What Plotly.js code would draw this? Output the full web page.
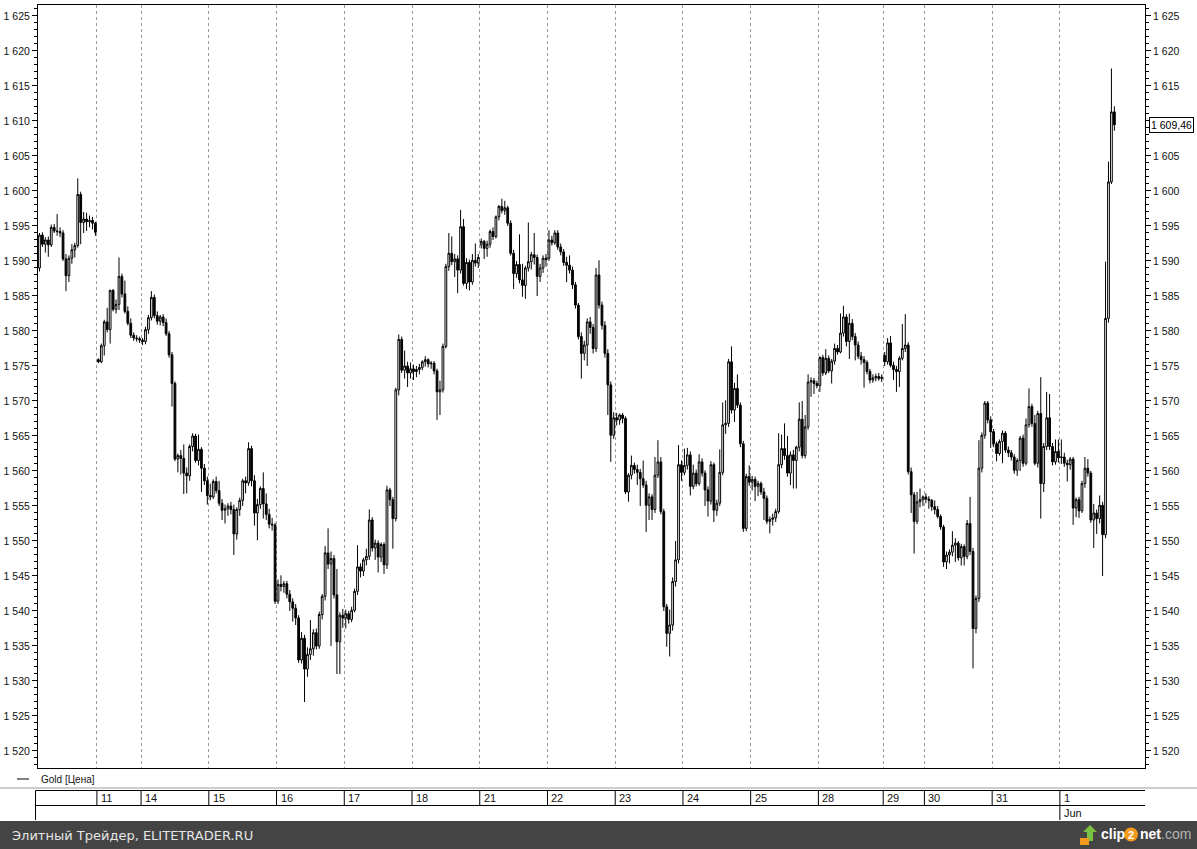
<!DOCTYPE html>
<html><head><meta charset="utf-8">
<script src="https://cdn.plot.ly/plotly-3.0.1.min.js"></script>
<style>html,body{margin:0;padding:0;background:#fff;}#chart{width:1197px;height:849px;}</style>
</head><body><div id="chart"></div>
<script>
// ---- DATA: hourly Gold candles [open, high, low, close] per trading day ----
const days = ['10','11','14','15','16','17','18','21','22','23','24','25','28','29','30','31','1'];
const monthOfLastDay = 'Jun';
const seriesName = 'Gold [Цена]';
const lastPriceText = '1 609,46';

const d10 = [[1589.0,1594.0,1588.5,1593.7],[1593.7,1594.1,1592.0,1592.4],[1592.4,1593.4,1591.2,1593.0],[1593.0,1593.5,1590.6,1592.3],[1592.3,1595.2,1592.0,1594.8],[1594.8,1595.3,1594.0,1594.3],[1594.3,1596.7,1593.6,1594.2],[1594.2,1594.8,1593.4,1594.0],[1594.0,1594.4,1590.0,1590.3],[1590.3,1591.0,1585.7,1587.9],[1587.9,1590.8,1587.0,1590.4],[1590.4,1592.4,1589.6,1591.6],[1591.6,1592.6,1590.5,1592.2],[1592.2,1601.8,1591.9,1599.5],[1599.5,1599.9,1592.4,1595.5],[1595.5,1597.0,1594.0,1596.0],[1596.0,1596.9,1594.3,1595.6],[1595.6,1596.5,1594.8,1595.8],[1595.8,1596.3,1594.5,1595.4],[1595.4,1595.6,1593.6,1594.1]];
const d11 = [[1575.9,1576.1,1575.4,1575.6],[1575.6,1578.2,1575.4,1577.9],[1577.9,1581.6,1576.5,1581.3],[1581.3,1583.3,1579.8,1580.2],[1580.2,1585.9,1578.2,1585.8],[1585.8,1586.0,1582.8,1583.1],[1583.1,1584.5,1582.5,1583.8],[1583.8,1590.5,1583.0,1587.8],[1587.8,1588.2,1584.8,1585.3],[1585.3,1587.2,1582.5,1582.8],[1582.8,1583.5,1580.8,1581.1],[1581.1,1581.8,1579.0,1579.4],[1579.4,1579.8,1578.6,1579.0],[1579.0,1579.4,1578.5,1578.9],[1578.9,1579.2,1578.3,1578.7]];
const d14 = [[1578.7,1579.0,1578.0,1578.5],[1578.5,1580.6,1578.1,1580.2],[1580.2,1582.3,1579.6,1581.9],[1581.9,1585.7,1581.5,1584.8],[1584.8,1585.2,1581.8,1582.2],[1582.2,1582.8,1580.9,1581.4],[1581.4,1582.3,1580.8,1582.0],[1582.0,1582.4,1580.7,1581.2],[1581.2,1581.8,1579.3,1579.6],[1579.6,1580.0,1576.2,1576.6],[1576.6,1577.0,1569.2,1572.5],[1572.5,1572.8,1561.4,1561.7],[1561.7,1562.5,1559.8,1562.2],[1562.2,1563.0,1559.5,1561.8],[1561.8,1563.8,1556.7,1559.7],[1559.7,1560.5,1556.8,1559.3],[1559.3,1563.8,1558.6,1563.5],[1563.5,1565.4,1562.8,1565.0],[1565.0,1565.3,1561.2,1561.5],[1561.5,1565.2,1560.8,1563.1],[1563.1,1563.4,1557.0,1560.4],[1560.4,1561.0,1558.0,1558.6],[1558.6,1559.2,1555.2,1556.5]];
const d15 = [[1556.5,1558.2,1555.8,1556.3],[1556.3,1558.8,1556.0,1558.5],[1558.5,1559.2,1556.8,1557.2],[1557.2,1558.6,1555.0,1555.4],[1555.4,1556.0,1553.0,1554.4],[1554.4,1555.2,1552.5,1554.6],[1554.6,1555.4,1553.6,1555.0],[1555.0,1555.6,1553.8,1554.5],[1554.5,1555.2,1548.0,1551.0],[1551.0,1554.8,1550.2,1554.5],[1554.5,1556.2,1553.6,1555.8],[1555.8,1558.9,1555.0,1558.6],[1558.6,1559.2,1556.8,1558.3],[1558.3,1564.1,1557.9,1563.2],[1563.2,1563.6,1557.8,1558.6],[1558.6,1559.4,1552.2,1554.0],[1554.0,1556.0,1550.1,1555.2],[1555.2,1557.8,1554.6,1557.5],[1557.5,1559.8,1553.2,1555.3],[1555.3,1556.8,1553.0,1553.8],[1553.8,1554.6,1551.8,1552.4],[1552.4,1553.3,1551.5,1552.3],[1552.3,1552.6,1541.0,1541.4]];
const d16 = [[1541.4,1544.5,1541.0,1543.8],[1543.8,1545.1,1542.8,1543.5],[1543.5,1544.3,1542.6,1543.9],[1543.9,1544.3,1541.8,1542.4],[1542.4,1543.0,1540.0,1541.3],[1541.3,1541.8,1538.5,1540.4],[1540.4,1541.0,1538.0,1539.0],[1539.0,1539.4,1532.6,1533.0],[1533.0,1537.0,1532.5,1536.1],[1536.1,1536.6,1527.0,1531.7],[1531.7,1534.8,1530.6,1533.8],[1533.8,1538.7,1533.0,1534.6],[1534.6,1537.4,1533.6,1536.9],[1536.9,1537.5,1534.5,1535.0],[1535.0,1539.9,1534.6,1539.5],[1539.5,1542.4,1538.8,1542.1],[1542.1,1549.3,1541.5,1548.3],[1548.3,1551.8,1546.0,1546.7],[1546.7,1548.5,1535.0,1547.5],[1547.5,1548.0,1541.8,1542.3],[1542.3,1546.0,1531.0,1535.6],[1535.6,1539.8,1531.0,1539.4],[1539.4,1540.3,1537.6,1539.0]];
const d17 = [[1539.0,1540.2,1537.5,1539.6],[1539.6,1540.0,1538.2,1538.8],[1538.8,1540.6,1538.4,1540.1],[1540.1,1543.2,1539.8,1542.8],[1542.8,1549.4,1542.3,1546.3],[1546.3,1546.8,1544.8,1545.7],[1545.7,1547.6,1545.0,1547.3],[1547.3,1548.9,1546.5,1547.8],[1547.8,1554.5,1547.3,1553.0],[1553.0,1553.4,1548.5,1549.0],[1549.0,1550.2,1547.3,1549.7],[1549.7,1550.1,1545.5,1547.7],[1547.7,1549.8,1547.0,1549.5],[1549.5,1549.8,1545.3,1546.6],[1546.6,1557.9,1546.0,1557.3],[1557.3,1557.6,1555.0,1555.9],[1555.9,1556.3,1548.9,1553.2],[1553.2,1571.9,1552.8,1571.6],[1571.6,1579.5,1570.8,1578.8],[1578.8,1579.2,1574.0,1574.4],[1574.4,1577.2,1573.2,1575.0],[1575.0,1575.6,1572.0,1574.0],[1574.0,1575.5,1573.2,1574.6]];
const d18 = [[1574.6,1575.2,1573.0,1574.2],[1574.2,1575.0,1573.4,1574.5],[1574.5,1575.3,1573.8,1574.8],[1574.8,1575.8,1574.4,1575.6],[1575.6,1576.4,1574.9,1575.9],[1575.9,1576.1,1574.8,1575.3],[1575.3,1575.7,1574.6,1575.4],[1575.4,1575.7,1573.8,1574.3],[1574.3,1574.6,1567.3,1571.3],[1571.3,1572.9,1568.0,1571.6],[1571.6,1578.2,1571.2,1577.8],[1577.8,1589.6,1577.5,1589.2],[1589.2,1594.0,1588.6,1591.1],[1591.1,1593.5,1589.4,1589.9],[1589.9,1591.0,1587.7,1590.3],[1590.3,1590.8,1585.4,1588.7],[1588.7,1597.3,1588.2,1594.9],[1594.9,1596.0,1586.5,1586.8],[1586.8,1590.4,1586.0,1589.8],[1589.8,1590.2,1585.8,1587.0],[1587.0,1591.0,1586.6,1590.1],[1590.1,1592.5,1589.2,1589.7],[1589.7,1591.0,1589.0,1590.5]];
const d21 = [[1592.3,1593.2,1591.8,1592.8],[1592.8,1593.0,1590.3,1591.8],[1591.8,1592.9,1590.6,1592.4],[1592.4,1594.5,1591.9,1594.2],[1594.2,1594.8,1593.0,1593.5],[1593.5,1596.5,1593.2,1596.3],[1596.3,1598.0,1595.8,1597.8],[1597.8,1598.9,1596.8,1597.2],[1597.2,1598.6,1596.6,1597.6],[1597.6,1597.9,1595.0,1595.4],[1595.4,1595.8,1590.8,1591.1],[1591.1,1591.6,1586.0,1588.2],[1588.2,1590.0,1587.6,1589.5],[1589.5,1593.8,1586.8,1587.3],[1587.3,1589.6,1584.9,1586.5],[1586.5,1589.3,1584.6,1589.0],[1589.0,1595.5,1588.5,1589.9],[1589.9,1591.3,1588.8,1590.9],[1590.9,1594.0,1589.5,1590.5],[1590.5,1590.9,1585.0,1587.8],[1587.8,1589.6,1587.0,1589.0],[1589.0,1590.8,1588.3,1590.4],[1590.4,1591.0,1589.2,1590.2]];
const d22 = [[1590.4,1594.4,1590.0,1593.0],[1593.0,1593.6,1592.2,1592.6],[1592.6,1594.4,1592.3,1594.0],[1594.0,1594.4,1591.6,1592.0],[1592.0,1592.5,1590.8,1591.3],[1591.3,1591.7,1589.3,1589.8],[1589.8,1590.6,1587.0,1589.4],[1589.4,1590.8,1588.2,1588.7],[1588.7,1589.2,1586.0,1586.6],[1586.6,1587.0,1583.2,1583.7],[1583.7,1584.0,1578.8,1579.2],[1579.2,1579.8,1573.2,1576.8],[1576.8,1578.6,1575.8,1578.0],[1578.0,1581.8,1575.0,1581.3],[1581.3,1582.0,1579.6,1580.5],[1580.5,1581.0,1576.8,1577.5],[1577.5,1589.0,1577.0,1588.0],[1588.0,1590.1,1583.2,1583.7],[1583.7,1584.2,1580.2,1580.8],[1580.8,1581.4,1576.2,1576.8],[1576.8,1577.4,1568.0,1572.3],[1572.3,1572.8,1561.3,1565.1],[1565.1,1568.4,1564.6,1567.6]];
const d23 = [[1567.6,1568.3,1566.5,1567.3],[1567.3,1568.2,1566.6,1568.0],[1568.0,1568.3,1566.8,1567.5],[1567.5,1567.8,1556.7,1557.0],[1557.0,1559.7,1555.6,1559.4],[1559.4,1562.2,1558.8,1560.8],[1560.8,1561.2,1559.6,1560.2],[1560.2,1560.9,1558.0,1559.8],[1559.8,1560.3,1555.0,1558.9],[1558.9,1561.5,1557.6,1558.0],[1558.0,1558.6,1551.3,1555.1],[1555.1,1556.8,1553.0,1556.3],[1556.3,1556.7,1553.0,1554.5],[1554.5,1562.0,1554.0,1559.4],[1559.4,1564.4,1559.0,1561.3],[1561.3,1562.0,1553.8,1554.2],[1554.2,1554.6,1540.0,1540.6],[1540.6,1541.0,1534.9,1536.8],[1536.8,1540.2,1533.5,1538.0],[1538.0,1544.8,1537.2,1544.2],[1544.2,1550.0,1543.5,1547.3],[1547.3,1563.7,1546.8,1560.9],[1560.9,1561.5,1558.6,1559.8]];
const d24 = [[1559.8,1563.2,1559.4,1560.8],[1560.8,1563.3,1560.2,1562.3],[1562.3,1562.8,1556.5,1557.8],[1557.8,1560.9,1557.4,1559.7],[1559.7,1560.2,1557.8,1558.2],[1558.2,1562.4,1557.9,1561.3],[1561.3,1561.8,1559.2,1559.7],[1559.7,1560.1,1555.0,1557.3],[1557.3,1557.8,1553.5,1555.7],[1555.7,1561.4,1555.2,1560.9],[1560.9,1561.2,1552.7,1554.4],[1554.4,1555.9,1553.6,1555.4],[1555.4,1563.1,1555.0,1559.8],[1559.8,1569.8,1559.4,1566.6],[1566.6,1570.1,1565.3,1566.8],[1566.8,1576.0,1566.3,1575.6],[1575.6,1577.8,1568.2,1568.7],[1568.7,1572.6,1567.0,1571.8],[1571.8,1573.8,1569.0,1569.4],[1569.4,1569.8,1563.4,1563.9],[1563.9,1564.3,1551.3,1551.8],[1551.8,1559.6,1551.4,1559.2],[1559.2,1560.8,1557.9,1558.4]];
const d25 = [[1558.4,1559.3,1557.2,1558.8],[1558.8,1559.2,1555.7,1557.8],[1557.8,1558.6,1556.4,1558.2],[1558.2,1558.5,1556.6,1557.0],[1557.0,1557.6,1553.0,1556.1],[1556.1,1556.5,1552.4,1552.8],[1552.8,1553.5,1551.1,1553.1],[1553.1,1553.9,1552.2,1553.3],[1553.3,1554.6,1552.7,1554.2],[1554.2,1565.4,1553.9,1560.9],[1560.9,1565.2,1560.4,1563.2],[1563.2,1566.8,1561.6,1562.2],[1562.2,1565.0,1559.2,1559.7],[1559.7,1562.8,1558.0,1562.3],[1562.3,1563.0,1557.5,1561.5],[1561.5,1563.6,1557.5,1563.4],[1563.4,1569.8,1562.8,1567.4],[1567.4,1570.0,1561.8,1562.2],[1562.2,1568.0,1561.8,1566.3],[1566.3,1573.8,1565.9,1572.7],[1572.7,1573.4,1570.6,1572.9],[1572.9,1573.3,1571.0,1572.5],[1572.5,1572.9,1571.8,1572.2]];
const d28 = [[1572.2,1576.4,1571.3,1576.2],[1576.2,1576.6,1573.6,1574.0],[1574.0,1577.4,1573.7,1576.1],[1576.1,1576.5,1574.0,1574.3],[1574.3,1576.0,1572.5,1575.7],[1575.7,1578.2,1575.2,1577.5],[1577.5,1578.0,1576.6,1577.0],[1577.0,1582.5,1576.8,1579.7],[1579.7,1583.6,1579.2,1582.0],[1582.0,1582.4,1577.8,1578.5],[1578.5,1582.5,1576.0,1581.1],[1581.1,1581.7,1578.7,1579.2],[1579.2,1579.7,1575.8,1578.0],[1578.0,1578.5,1576.0,1576.4],[1576.4,1577.0,1575.2,1575.9],[1575.9,1576.4,1571.9,1575.5],[1575.5,1575.8,1573.8,1574.2],[1574.2,1574.6,1572.5,1573.0],[1573.0,1573.8,1572.6,1573.3],[1573.3,1573.9,1572.8,1573.5],[1573.5,1574.0,1572.9,1573.2],[1573.2,1573.8,1572.7,1573.4]];
const d29 = [[1576.5,1577.0,1575.0,1575.6],[1575.6,1579.0,1575.2,1578.3],[1578.3,1579.3,1574.8,1575.1],[1575.1,1575.6,1573.0,1574.5],[1574.5,1575.0,1571.3,1574.2],[1574.2,1576.4,1572.0,1576.1],[1576.1,1581.0,1575.8,1577.5],[1577.5,1582.4,1577.0,1578.0],[1578.0,1578.4,1559.5,1559.9],[1559.9,1560.5,1554.0,1556.6],[1556.6,1557.0,1548.2,1552.8],[1552.8,1557.0,1552.4,1555.6],[1555.6,1557.5,1554.8,1555.9],[1555.9,1556.5,1555.0,1556.3]];
const d30 = [[1556.3,1556.8,1555.4,1556.0],[1556.0,1556.4,1554.6,1555.8],[1555.8,1556.0,1554.3,1554.9],[1554.9,1555.8,1553.8,1554.5],[1554.5,1555.0,1553.2,1553.5],[1553.5,1553.8,1551.6,1552.0],[1552.0,1552.3,1546.3,1547.0],[1547.0,1548.5,1546.0,1548.0],[1548.0,1548.8,1546.8,1548.4],[1548.4,1551.4,1547.8,1549.4],[1549.4,1550.4,1547.0,1549.7],[1549.7,1550.0,1547.2,1547.6],[1547.6,1549.6,1546.5,1549.2],[1549.2,1549.5,1546.5,1547.8],[1547.8,1553.0,1547.4,1552.5],[1552.5,1556.3,1548.0,1548.5],[1548.5,1549.0,1531.8,1537.5],[1537.5,1542.2,1536.8,1541.8],[1541.8,1564.4,1541.3,1560.4],[1560.4,1565.5,1559.8,1565.1],[1565.1,1570.0,1564.6,1569.7],[1569.7,1570.0,1566.8,1567.3],[1567.3,1567.8,1563.3,1565.6]];
const d31 = [[1565.6,1566.0,1563.4,1563.9],[1563.9,1564.2,1561.4,1562.5],[1562.5,1564.5,1562.2,1564.2],[1564.2,1565.8,1561.1,1565.4],[1565.4,1565.7,1562.6,1563.0],[1563.0,1563.5,1562.0,1562.6],[1562.6,1563.0,1561.5,1562.0],[1562.0,1562.4,1559.6,1560.1],[1560.1,1561.8,1559.3,1561.5],[1561.5,1565.0,1560.0,1564.7],[1564.7,1565.2,1560.6,1561.1],[1561.1,1567.5,1560.8,1566.6],[1566.6,1571.8,1566.2,1569.2],[1569.2,1569.6,1566.3,1566.8],[1566.8,1568.0,1560.8,1561.1],[1561.1,1568.6,1560.5,1568.2],[1568.2,1573.4,1553.2,1558.2],[1558.2,1564.0,1557.0,1563.5],[1563.5,1571.3,1563.0,1567.6],[1567.6,1571.0,1563.0,1563.5],[1563.5,1564.0,1560.8,1561.3],[1561.3,1564.5,1560.9,1562.8],[1562.8,1564.5,1561.2,1561.9]];
const d01 = [[1561.9,1564.5,1561.0,1562.0],[1562.0,1562.6,1560.6,1561.1],[1561.1,1561.6,1558.5,1560.9],[1560.9,1562.0,1560.2,1561.7],[1561.7,1562.0,1552.3,1554.7],[1554.7,1556.2,1553.4,1555.9],[1555.9,1556.3,1553.3,1554.3],[1554.3,1558.6,1554.0,1558.2],[1558.2,1562.0,1557.6,1560.4],[1560.4,1561.7,1559.2,1559.7],[1559.7,1560.0,1552.6,1553.0],[1553.0,1555.3,1549.0,1554.0],[1554.0,1554.5,1551.0,1553.2],[1553.2,1556.5,1552.5,1555.1],[1555.1,1555.6,1545.0,1550.9],[1550.9,1589.9,1550.4,1581.8],[1581.8,1604.2,1581.2,1601.3],[1601.3,1617.5,1601.0,1611.3],[1611.3,1612.1,1608.6,1609.46]];

const dayBars = [d10,d11,d14,d15,d16,d17,d18,d21,d22,d23,d24,d25,d28,d29,d30,d31,d01];

// ---- build series ----
const xs=[], op=[], hi=[], lo=[], cl=[];
const dayStart=[];
let k=0;
dayBars.forEach(arr=>{ dayStart.push(k); arr.forEach(b=>{ xs.push(k); op.push(b[0]); hi.push(b[1]); lo.push(b[2]); cl.push(b[3]); k++; }); });
const nBars = k;
const lastClose = cl[nBars-1];

// ---- page geometry ----
const W=1197,H=849, mL=38, mR=52, mT=5, mB=81;
const pW=W-mL-mR, pH=H-mT-mB;
const px2x = px => (px-mL)/pW;
const py2y = py => (H-mB-py)/pH;
const xRange=[-0.5, 375.4];
const yRange=[1517.57, 1626.57];

const boundaries = dayStart.slice(1).map(s=>s-0.5);

const FONT='Liberation Sans, Arial, sans-serif';
const shapes=[], ann=[];

// panel separator line & date strip
shapes.push({type:'line',xref:'paper',yref:'paper',x0:px2x(0),x1:px2x(W),y0:py2y(788),y1:py2y(788),line:{color:'#9a9a9a',width:1}});
shapes.push({type:'line',xref:'paper',yref:'paper',x0:px2x(35.5),x1:1,y0:py2y(790.5),y1:py2y(790.5),line:{color:'#000',width:1}});
shapes.push({type:'line',xref:'paper',yref:'paper',x0:px2x(35.5),x1:1,y0:py2y(805.5),y1:py2y(805.5),line:{color:'#000',width:1}});
shapes.push({type:'line',xref:'paper',yref:'paper',x0:px2x(35.5),x1:px2x(35.5),y0:py2y(790.5),y1:py2y(820),line:{color:'#000',width:1}});
boundaries.forEach((b,i)=>{
  const isLast = i===boundaries.length-1;
  shapes.push({type:'line',xref:'x',yref:'paper',x0:b,x1:b,y0:py2y(790.5),y1:py2y(isLast?820:805.5),line:{color:'#000',width:1}});
  ann.push({xref:'x',yref:'paper',x:b,y:py2y(798),xanchor:'left',yanchor:'middle',xshift:2,showarrow:false,text:days[i+1],font:{family:FONT,size:11,color:'#111'}});
});
ann.push({xref:'x',yref:'paper',x:boundaries[boundaries.length-1],y:py2y(813),xanchor:'left',yanchor:'middle',xshift:2,showarrow:false,text:monthOfLastDay,font:{family:FONT,size:11,color:'#111'}});

// legend row
shapes.push({type:'line',xref:'paper',yref:'paper',x0:px2x(17),x1:px2x(29),y0:py2y(779),y1:py2y(779),line:{color:'#000',width:1}});
ann.push({xref:'paper',yref:'paper',x:px2x(39),y:py2y(779),xanchor:'left',yanchor:'middle',showarrow:false,text:seriesName,font:{family:FONT,size:10,color:'#111'}});

// bottom banner
shapes.push({type:'rect',xref:'paper',yref:'paper',x0:px2x(0),x1:px2x(W),y0:py2y(821),y1:py2y(H+2),fillcolor:'#444444',line:{width:0},layer:'below'});
ann.push({xref:'paper',yref:'paper',x:px2x(10),y:py2y(835),xanchor:'left',yanchor:'middle',showarrow:false,text:'Элитный Трейдер, ELITETRADER.RU',font:{family:'DejaVu Sans, sans-serif',size:13,color:'#e6e6e6'}});
// clip2net logo
shapes.push({type:'path',xref:'paper',yref:'paper',path:`M ${px2x(1090)} ${py2y(825)} L ${px2x(1097)} ${py2y(832)} L ${px2x(1093)} ${py2y(832)} L ${px2x(1093)} ${py2y(841)} L ${px2x(1087)} ${py2y(841)} L ${px2x(1087)} ${py2y(832)} L ${px2x(1083)} ${py2y(832)} Z`,fillcolor:'#7cc242',line:{width:0}});
shapes.push({type:'rect',xref:'paper',yref:'paper',x0:px2x(1080),x1:px2x(1089),y0:py2y(838),y1:py2y(845),fillcolor:'#f39a1e',line:{width:0}});
shapes.push({type:'circle',xref:'paper',yref:'paper',x0:px2x(1124),x1:px2x(1138),y0:py2y(827.5),y1:py2y(841.5),fillcolor:'#f39a1e',line:{width:0}});
ann.push({xref:'paper',yref:'paper',x:px2x(1099),y:py2y(834),xanchor:'left',yanchor:'middle',showarrow:false,text:'<b>clip</b>',font:{family:FONT,size:14,color:'#ffffff'}});
ann.push({xref:'paper',yref:'paper',x:px2x(1131),y:py2y(834.5),xanchor:'center',yanchor:'middle',showarrow:false,text:'<b>2</b>',font:{family:FONT,size:11,color:'#ffffff'}});
ann.push({xref:'paper',yref:'paper',x:px2x(1138),y:py2y(834),xanchor:'left',yanchor:'middle',showarrow:false,text:'<b>net</b><span style="color:#b5b5b5">.com</span>',font:{family:FONT,size:14,color:'#ffffff'}});

// last price tag
ann.push({xref:'paper',yref:'y',x:1,y:lastClose,xanchor:'left',yanchor:'middle',xshift:4,showarrow:false,text:lastPriceText,bgcolor:'#fff',bordercolor:'#000',borderwidth:1,borderpad:1,font:{family:FONT,size:10.5,color:'#000'}});

const candle = {
  type:'candlestick', x:xs, open:op, high:hi, low:lo, close:cl,
  increasing:{line:{color:'#000',width:1},fillcolor:'#ffffff'},
  decreasing:{line:{color:'#000',width:1},fillcolor:'#000000'},
  whiskerwidth:0, hoverinfo:'none', showlegend:false, name:seriesName
};
const ghost = {type:'scatter',x:[xs[nBars-1]],y:[lastClose],yaxis:'y2',mode:'markers',marker:{opacity:0,size:1},hoverinfo:'skip',showlegend:false};

const yCommon = {range:yRange,autorange:false,tick0:1520,dtick:5,ticks:'outside',ticklen:5,tickwidth:1,tickcolor:'#000',
  minor:{dtick:1,ticks:'outside',ticklen:3,tickwidth:1,tickcolor:'#000',showgrid:false},
  showgrid:false,zeroline:false,showline:true,linecolor:'#000',linewidth:1,tickformat:',d',
  tickfont:{family:FONT,size:10.5,color:'#111'},fixedrange:true};

const layout = {
  width:W,height:H,margin:{l:mL,r:mR,t:mT,b:mB,pad:0},
  paper_bgcolor:'#fff',plot_bgcolor:'#fff',separators:', ',
  boxgap:0.15, showlegend:false, dragmode:false,
  xaxis:{range:xRange,autorange:false,rangeslider:{visible:false},tickmode:'array',tickvals:boundaries,ticktext:boundaries.map(()=>''),
    ticks:'',showticklabels:false,showgrid:true,gridcolor:'#999999',gridwidth:1,griddash:'3px,3px',zeroline:false,
    showline:true,mirror:true,linecolor:'#000',linewidth:1,fixedrange:true},
  yaxis:Object.assign({},yCommon,{side:'left'}),
  yaxis2:Object.assign({},yCommon,{side:'right',overlaying:'y',anchor:'x'}),
  shapes:shapes, annotations:ann
};
Plotly.newPlot('chart',[candle,ghost],layout,{displayModeBar:false,staticPlot:true});
</script>
</body></html>
